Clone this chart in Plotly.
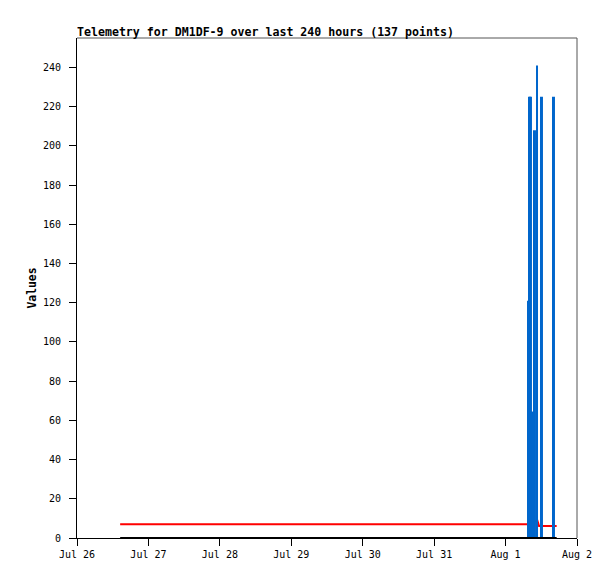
import plotly.graph_objects as go

# ---- data ----
chan_times = ["2024-07-26 14:30", "2024-08-01 07:40", "2024-08-01 10:40",
              "2024-08-01 11:15", "2024-08-01 17:10"]
chan_red = [7.0, 7.0, 9.0, 6.1, 6.1]
chan_black = [0, 0, 0, 0, 0]

bar_times = ["2024-08-01 07:42", "2024-08-01 08:12", "2024-08-01 08:32",
             "2024-08-01 08:57", "2024-08-01 09:33", "2024-08-01 09:53",
             "2024-08-01 10:34", "2024-08-01 12:14", "2024-08-01 16:16"]
bar_values = [121, 225, 225, 64.5, 97, 208, 241, 225, 225]

y_ticks = [0, 20, 40, 60, 80, 100, 120, 140, 160, 180, 200, 220, 240]
x_range = ["2024-07-26 00:00", "2024-08-02 00:00"]
y_range = [0, 255]
title_text = "Telemetry for DM1DF-9 over last 240 hours (137 points)"

MONO = "DejaVu Sans Mono"
BAR_MS = 40 * 60 * 1000

fig = go.Figure()
fig.add_trace(go.Scatter(x=chan_times, y=chan_red, mode="lines",
                         line=dict(color="#ff0000", width=2), xaxis="x", yaxis="y",
                         showlegend=False))
fig.add_trace(go.Bar(x=bar_times, y=bar_values, width=[BAR_MS] * len(bar_times),
                     marker=dict(color="#0066cc", line=dict(width=0)),
                     xaxis="x2", yaxis="y2", showlegend=False))
fig.add_trace(go.Scatter(x=chan_times, y=chan_black, mode="lines",
                         line=dict(color="#000000", width=2), xaxis="x2", yaxis="y2",
                         showlegend=False))

axis_common = dict(showgrid=False, zeroline=False, automargin=False)
W, H = 599, 563
fig.update_layout(
    width=W, height=H,
    margin=dict(l=69, r=30, t=30, b=33, autoexpand=False),
    paper_bgcolor="white", plot_bgcolor="white",
    barmode="overlay",
    font=dict(family=MONO, size=10, color="black"),
    title=dict(text="<b>" + title_text + "</b>", font=dict(family=MONO, size=11.6, color="black"),
               x=0, xref="paper", xanchor="left", y=1 - 23.5 / H, yref="container",
               yanchor="middle"),
    xaxis=dict(type="date", range=x_range, dtick=86400000, tick0="2024-07-26",
               tickformat="%b %-d", ticks="outside", ticklen=7, tickcolor="black",
               showline=True, linecolor="black", linewidth=1, **axis_common),
    yaxis=dict(range=y_range, tickvals=y_ticks, ticks="outside", ticklen=7,
               tickcolor="black", showline=True, linecolor="black", linewidth=1,
               ticklabelstandoff=6,
               title=dict(text="<b>Values</b>", font=dict(family=MONO, size=11.4), standoff=3),
               **axis_common),
    xaxis2=dict(type="date", range=x_range, overlaying="x", visible=False, **axis_common),
    yaxis2=dict(range=y_range, overlaying="y", visible=False, **axis_common),
    shapes=[
        dict(type="line", xref="paper", yref="paper", x0=0, x1=1, y0=1, y1=1,
             line=dict(color="#555555", width=1)),
        dict(type="line", xref="paper", yref="paper", x0=1, x1=1, y0=0, y1=1,
             line=dict(color="#555555", width=1)),
    ],
)

fig.write_html("out.html")
